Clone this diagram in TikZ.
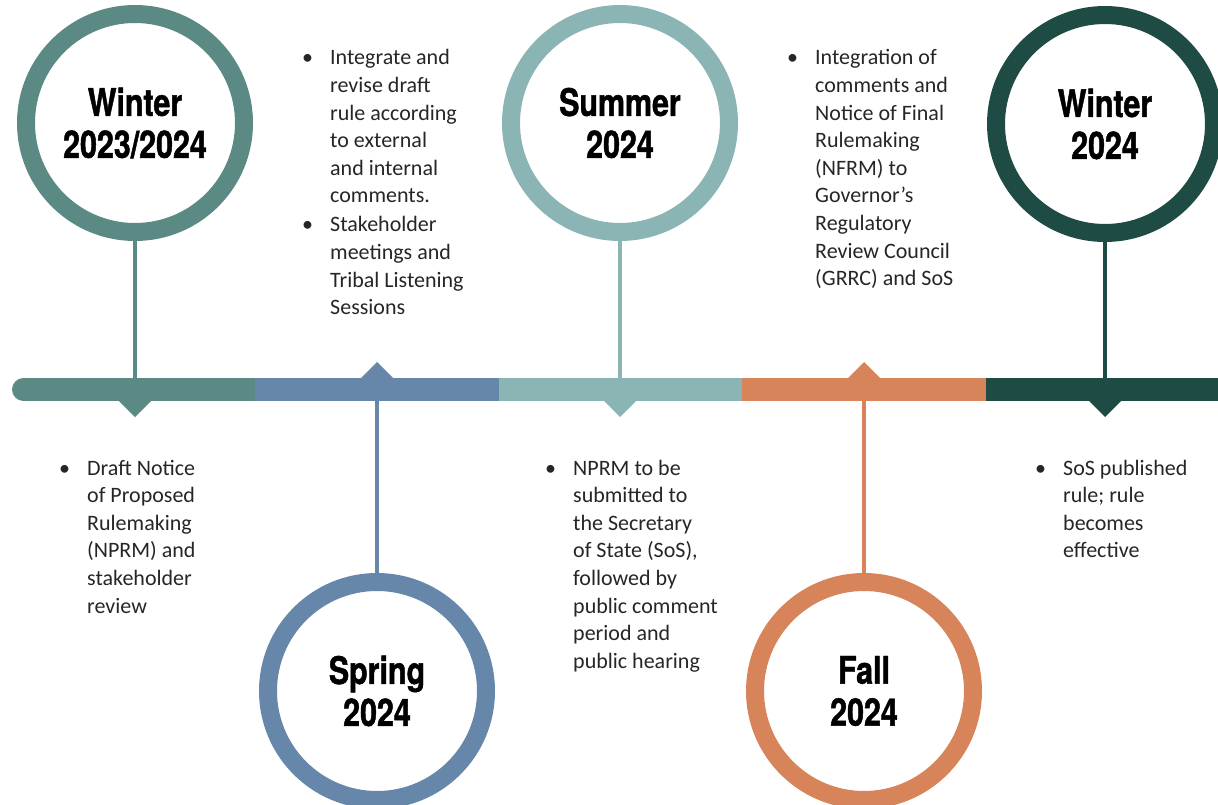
\documentclass[tikz,border=0pt]{standalone}
\usepackage{fontspec}
\usepackage{tikz}
\newfontfamily\notefont{Carlito}
\newfontfamily\yearfont[FakeStretch=0.8, FakeBold=1.2]{TeX Gyre Heros}
\definecolor{sage}{HTML}{5B8A84}
\definecolor{slate}{HTML}{6687A9}
\definecolor{mist}{HTML}{8BB4B4}
\definecolor{clay}{HTML}{D8845A}
\definecolor{pine}{HTML}{1E4C44}

\begin{document}
\begin{tikzpicture}[x=1pt, y=-1pt,
	ring/.style={circle, draw=#1, line width=18pt, minimum size=218pt, fill=white, inner sep=0pt, align=center, font=\yearfont\bfseries\fontsize{38}{42}\selectfont},
	stem/.style={draw=#1, line width=3.5pt},
	note/.style={anchor=base west, inner sep=0pt, font=\notefont\fontsize{22}{27.6}\selectfont, text=black!85}]
			\useasboundingbox (0,0) rectangle (1218,805);
			\coordinate (bar) at (0,389.5);
			\node[ring=sage] (w1) at (135,123) {Winter\\2023/2024};
			\node[ring=slate] (sp) at (377,691) {Spring\\2024};
			\node[ring=mist] (su) at (620,123) {Summer\\2024};
			\node[ring=clay] (fa) at (864,691) {Fall\\2024};
			\node[ring=pine] (w2) at (1105,124) {Winter\\2024};
			\draw [stem=sage] (w1.south) -- (w1.south |- bar);
			\draw [stem=slate] (sp.north) -- (sp.north |- bar);
			\draw [stem=mist] (su.south) -- (su.south |- bar);
			\draw [stem=clay] (fa.north) -- (fa.north |- bar);
			\draw [stem=pine] (w2.south) -- (w2.south |- bar);
			\draw [color=sage, line width=23pt, line cap=round] (23.5,389.5) -- (255,389.5);
			\draw [color=slate, line width=23pt] (255,389.5) -- (499,389.5);
			\draw [color=mist, line width=23pt] (499,389.5) -- (742,389.5);
			\draw [color=clay, line width=23pt] (742,389.5) -- (986,389.5);
			\draw [color=pine, line width=23pt] (986,389.5) -- (1218,389.5);
			\fill [sage] (118,400) -- (135,417) -- (152,400) -- cycle;
			\fill [slate] (360,379) -- (377,362) -- (394,379) -- cycle;
			\fill [mist] (603,400) -- (620,417) -- (637,400) -- cycle;
			\fill [clay] (847,379) -- (864,362) -- (881,379) -- cycle;
			\fill [pine] (1088,400) -- (1105,417) -- (1122,400) -- cycle;
			\node[note] (n1) at (302,65) {\makebox[28pt][l]{\textbullet}\parbox[t]{170pt}{Integrate and\\revise draft\\rule according\\to external\\and internal\\comments.}};
			\node[note] (n1b) at (302,232) {\makebox[28pt][l]{\textbullet}\parbox[t]{170pt}{Stakeholder\\meetings and\\Tribal Listening\\Sessions}};
			\node[note] (n2) at (787,65) {\makebox[28pt][l]{\textbullet}\parbox[t]{170pt}{Integration of\\comments and\\Notice of Final\\Rulemaking\\(NFRM) to\\Governor’s\\Regulatory\\Review Council\\(GRRC) and SoS}};
			\node[note] (n3) at (59,475) {\makebox[28pt][l]{\textbullet}\parbox[t]{150pt}{Draft Notice\\of Proposed\\Rulemaking\\(NPRM) and\\stakeholder\\review}};
			\node[note] (n4) at (545,475) {\makebox[28pt][l]{\textbullet}\parbox[t]{170pt}{NPRM to be\\submitted to\\the Secretary\\of State (SoS),\\followed by\\public comment\\period and\\public hearing}};
			\node[note] (n5) at (1035,475) {\makebox[28pt][l]{\textbullet}\parbox[t]{150pt}{SoS published\\rule; rule\\becomes\\effective}};
	\end{tikzpicture}
\end{document}
